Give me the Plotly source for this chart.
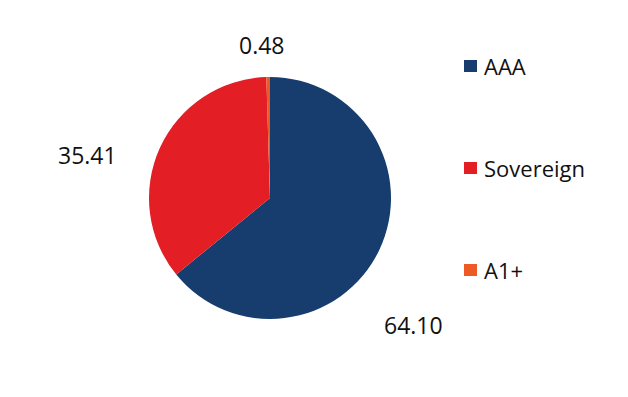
import plotly.graph_objects as go

categories = ["AAA", "Sovereign", "A1+"]
values = [64.10, 35.41, 0.48]
colors = ["#173D6F", "#E31E25", "#EE5A24"]

# label placement (pixel coords in window) for each slice's value text
label_pos = [(413, 325), (87, 155), (262, 45)]
legend_y = [66, 168, 270]

W, H = 628, 397
OFF = 8  # page body margin offset
FONT = "Open Sans"


def px(x):
    return (x - OFF) / W


def py(y):
    return 1 - (y - OFF) / H


fig = go.Figure(go.Pie(
    labels=categories, values=values, sort=False, direction="clockwise",
    rotation=0, marker=dict(colors=colors, line=dict(width=0)),
    textinfo="none", hoverinfo="label+value", showlegend=False,
    domain=dict(x=[px(149), px(391)], y=[py(319), py(77)]),
))

annotations = []
shapes = []
for cat, val, col, (lx, ly), gy in zip(categories, values, colors, label_pos, legend_y):
    annotations.append(dict(
        x=px(lx), y=py(ly), xref="paper", yref="paper",
        text=f"{val:.2f}", showarrow=False, xanchor="center", yanchor="middle",
        font=dict(family=FONT, size=23, color="#111111")))
    annotations.append(dict(
        x=px(482), y=py(gy), xref="paper", yref="paper",
        text=cat, showarrow=False, xanchor="left", yanchor="middle",
        font=dict(family=FONT, size=22, color="#111111")))
    shapes.append(dict(
        type="rect", xref="paper", yref="paper",
        x0=px(464), x1=px(477), y0=py(gy + 6), y1=py(gy - 6),
        fillcolor=col, line=dict(width=0)))

fig.update_layout(
    width=W, height=H, margin=dict(l=0, r=0, t=0, b=0),
    paper_bgcolor="white", plot_bgcolor="white",
    annotations=annotations, shapes=shapes,
)
fig.write_html("out.html")
